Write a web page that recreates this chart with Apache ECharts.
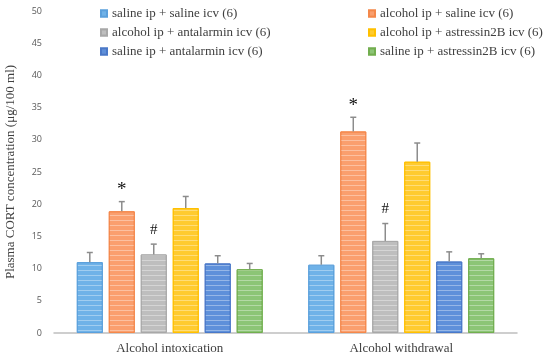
<!DOCTYPE html>
<html>
<head>
<meta charset="utf-8">
<script src="https://cdn.jsdelivr.net/npm/echarts@6/dist/echarts.min.js"></script>
<style>html,body{margin:0;padding:0;background:#fff;}#c{width:550px;height:360px;}</style>
</head>
<body>
<div id="c"></div>
<script>
var categories = ['Alcohol intoxication', 'Alcohol withdrawal'];
var seriesNames = [
  'saline ip + saline icv (6)',
  'alcohol ip + saline icv (6)',
  'alcohol ip + antalarmin icv (6)',
  'alcohol ip + astressin2B icv (6)',
  'saline ip + antalarmin icv (6)',
  'saline ip + astressin2B icv (6)'
];
var means = [
  [11.0, 10.6],
  [18.9, 31.3],
  [12.2, 14.3],
  [19.4, 26.6],
  [10.8, 11.1],
  [9.9, 11.6]
];
var errors = [
  [1.5, 1.4],
  [1.5, 2.2],
  [1.6, 2.7],
  [1.8, 2.9],
  [1.2, 1.5],
  [0.9, 0.7]
];
var marks = [
  ['', ''],
  ['*', '*'],
  ['#', '#'],
  ['', ''],
  ['', ''],
  ['', '']
];
var yTicks = { min: 0, max: 50, interval: 5 };

var fills = ['#6FB2E8', '#FA9F6E', '#BEBEBE', '#FFCB2F', '#5E90DA', '#8CC576'];
var borders = ['#5BA0DC', '#F4884B', '#A8A8A8', '#FFC000', '#4A78C8', '#72AE4F'];

var BAR_W = 26, BAR_GAP = '23%';

var series = seriesNames.map(function (n, i) {
  return {
    name: n,
    type: 'bar',
    data: means[i],
    barWidth: BAR_W,
    barGap: BAR_GAP,
    itemStyle: {
      color: fills[i],
      borderColor: borders[i],
      borderWidth: 1,
      decal: {
        symbol: 'rect',
        symbolSize: 1,
        dashArrayX: [1, 0],
        dashArrayY: [1, 4],
        rotation: 0,
        color: 'rgba(255,255,255,0.35)'
      }
    }
  };
});

var errData = [];
for (var s = 0; s < seriesNames.length; s++) {
  for (var c = 0; c < categories.length; c++) {
    errData.push([c, means[s][c], means[s][c] + errors[s][c], s, marks[s][c]]);
  }
}

series.push({
  type: 'custom',
  name: 'err',
  silent: true,
  z: 5,
  data: errData,
  encode: { x: 0, y: [1, 2] },
  renderItem: function (params, api) {
    var cat = api.value(0);
    var sIdx = api.value(3);
    var layout = api.barLayout({ barWidth: BAR_W, barGap: BAR_GAP, count: seriesNames.length });
    var off = layout[sIdx].offsetCenter;
    var base = api.coord([cat, api.value(1)]);
    var top = api.coord([cat, api.value(2)]);
    var x = base[0] + off;
    var lineStyle = { stroke: '#8C8C8C', lineWidth: 1.5 };
    var children = [
      { type: 'line', shape: { x1: x, y1: base[1], x2: x, y2: top[1] }, style: lineStyle },
      { type: 'line', shape: { x1: x - 3, y1: top[1], x2: x + 3, y2: top[1] }, style: lineStyle }
    ];
    var m = errData[params.dataIndex][4];
    if (m) {
      children.push({
        type: 'text',
        style: {
          text: m,
          x: x,
          y: top[1] - (m === '*' ? 2 : 7),
          align: 'center',
          verticalAlign: 'bottom',
          fill: '#111',
          font: (m === '*' ? '19px' : '15px') + ' "Liberation Serif", serif'
        }
      });
    }
    return { type: 'group', children: children };
  }
});

var legendText = { fontFamily: '"Liberation Serif", serif', fontSize: 13, color: '#404040' };

var option = {
  animation: false,
  aria: { enabled: true, decal: { show: true } },
  grid: { left: 54, right: 33, top: 11, bottom: 27, containLabel: false, outerBoundsMode: 'none' },
  legend: [
    {
      data: [seriesNames[0], seriesNames[2], seriesNames[4]],
      orient: 'vertical', left: 100, top: 7, padding: 0, itemWidth: 6, itemHeight: 6, itemGap: 6,
      icon: 'rect', textStyle: legendText, selectedMode: false
    },
    {
      data: [seriesNames[1], seriesNames[3], seriesNames[5]],
      orient: 'vertical', left: 368, top: 7, padding: 0, itemWidth: 6, itemHeight: 6, itemGap: 6,
      icon: 'rect', textStyle: legendText, selectedMode: false
    }
  ],
  xAxis: {
    type: 'category',
    data: categories,
    axisLine: { lineStyle: { color: '#BFBFBF', width: 1.5 } },
    axisTick: { show: false },
    axisLabel: { fontFamily: '"Liberation Serif", serif', fontSize: 13, color: '#404040', margin: 9 }
  },
  yAxis: {
    type: 'value',
    min: yTicks.min, max: yTicks.max, interval: yTicks.interval,
    name: 'Plasma CORT concentration (μg/100 ml)',
    nameLocation: 'middle',
    nameGap: 37,
    nameTextStyle: { fontFamily: '"Liberation Serif", serif', fontSize: 13, color: '#404040' },
    axisLine: { show: false },
    axisTick: { show: false },
    splitLine: { show: false },
    axisLabel: { fontFamily: '"Open Sans", sans-serif', fontSize: 9, color: '#595959', margin: 12 }
  },
  series: series
};

var chart = echarts.init(document.getElementById('c'), null, { renderer: 'canvas' });
chart.setOption(option);
</script>
</body>
</html>
